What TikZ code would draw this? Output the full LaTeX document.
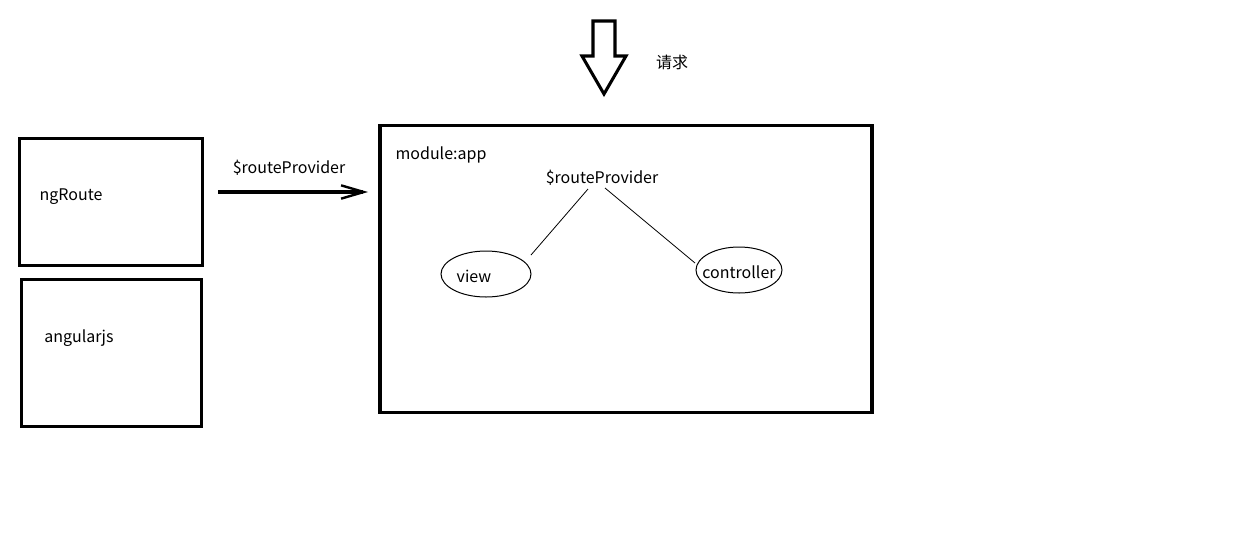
\documentclass[tikz,border=0pt]{standalone}
\usepackage{fontspec}
\setmainfont{Noto Sans CJK SC}
\usetikzlibrary{arrows.meta,shapes.geometric}
\begin{document}
\begin{tikzpicture}[x=0.75pt,y=-0.75pt,
  box/.style={draw,line width=2.3pt},
  lbl/.style={font=\fontsize{12pt}{14pt}\selectfont,inner sep=0pt},
  oval/.style={draw,ellipse,line width=0.75pt,minimum width=67.5pt,minimum height=34.5pt,inner sep=0pt},
  thin/.style={line width=0.6pt}]
\useasboundingbox (0,0) rectangle (1247,533);
\node[box,minimum width=137pt,minimum height=95pt,inner sep=0pt] (ng) at (111,202) {};
\node[lbl] (ngt) at (71,197) {ngRoute};
\node[box,minimum width=135pt,minimum height=110pt,inner sep=0pt] (ang) at (111.5,353) {};
\node[lbl] (angt) at (79,338) {angularjs};
\node[box,minimum width=369pt,minimum height=215pt,inner sep=0pt] (app) at (626,269) {};
\node[lbl] (appt) at (441,155) {module:app};
\node[lbl] (rp1) at (289,168) {\$routeProvider};
\node[lbl] (rp2) at (602,178) {\$routeProvider};
\node[lbl] (req) at (672,62) {请求};
\node[oval] (view) at (486,274) {};
\node[lbl] at (474,276) {view};
\node[oval,minimum width=64.5pt] (ctrl) at (739,270) {};
\node[lbl] at (739,272) {controller};
\coordinate (a1) at (218,192);
\coordinate (a2) at (368,192);
\draw[line width=2.3pt,-{Straight Barb[length=17pt,width=10pt,line width=1.8pt]}] (a1) -- (a2);
\coordinate (l1s) at (588,189);
\coordinate (l1e) at (531,255);
\coordinate (l2s) at (605,188);
\coordinate (l2e) at (695,263);
\draw[thin] (l1s) -- (l1e);
\draw[thin] (l2s) -- (l2e);
\draw[line width=2.3pt,line join=miter] (593,21) -- (615,21) -- (615,56) -- (626,56) -- (604,94) -- (582,56) -- (593,56) -- cycle;
\end{tikzpicture}
\end{document}
